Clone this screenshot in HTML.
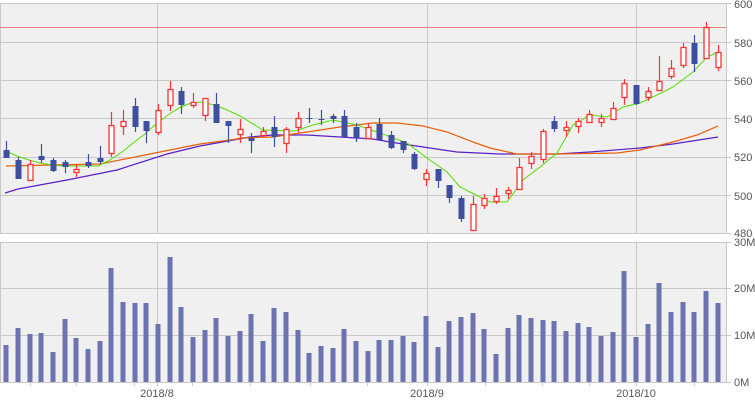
<!DOCTYPE html>
<html><head><meta charset="utf-8"><style>
html,body{margin:0;padding:0;background:#fff;}
svg{display:block;font-family:"Liberation Sans",sans-serif;}
</style></head><body>
<svg id="s" width="755" height="400" xmlns="http://www.w3.org/2000/svg">
<rect x="0" y="3" width="726" height="230" fill="#f0f0f0"/>
<rect x="0" y="242" width="726" height="140" fill="#f0f0f0"/>
<g stroke="#c8c8c8" stroke-width="1">
<line x1="0" y1="3.5" x2="731" y2="3.5"/>
<line x1="0" y1="42.5" x2="731" y2="42.5"/>
<line x1="0" y1="80.5" x2="731" y2="80.5"/>
<line x1="0" y1="118.5" x2="731" y2="118.5"/>
<line x1="0" y1="157.5" x2="731" y2="157.5"/>
<line x1="0" y1="195.5" x2="731" y2="195.5"/>
<line x1="0" y1="233.5" x2="731" y2="233.5"/>
<line x1="0" y1="242.5" x2="731" y2="242.5"/>
<line x1="0" y1="288.5" x2="731" y2="288.5"/>
<line x1="0" y1="335.5" x2="731" y2="335.5"/>
<line x1="0" y1="382.5" x2="731" y2="382.5"/>
<line x1="0.5" y1="3" x2="0.5" y2="233"/>
<line x1="0.5" y1="242" x2="0.5" y2="382"/>
<line x1="726.5" y1="3" x2="726.5" y2="233"/>
<line x1="726.5" y1="242" x2="726.5" y2="382"/>
<line x1="157.5" y1="3" x2="157.5" y2="233"/>
<line x1="427.5" y1="3" x2="427.5" y2="233"/>
<line x1="636.5" y1="3" x2="636.5" y2="233"/>
<line x1="157.5" y1="242" x2="157.5" y2="386"/>
<line x1="427.5" y1="242" x2="427.5" y2="386"/>
<line x1="636.5" y1="242" x2="636.5" y2="386"/>
</g>
<g id="ticks" stroke="#c8c8c8"></g>
<line x1="0" y1="27.5" x2="726" y2="27.5" stroke="#f08080" stroke-width="1"/>
<g fill="#555" font-size="11">
<text x="734" y="8">600</text><text x="734" y="47">580</text><text x="734" y="85">560</text>
<text x="734" y="123">540</text><text x="734" y="161">520</text><text x="734" y="200">500</text>
<text x="734" y="237">480</text>
<text x="734" y="246">30M</text><text x="734" y="292">20M</text><text x="734" y="339">10M</text><text x="734" y="386">0M</text>
<text x="157" y="397" text-anchor="middle">2018/8</text>
<text x="427" y="397" text-anchor="middle">2018/9</text>
<text x="636" y="397" text-anchor="middle">2018/10</text>
</g>
<g id="vol" fill="#6b74b0"></g>
<polyline fill="none" stroke="#5a1fc8" stroke-width="1.2" points="5,193 18,189 67,180 117,170 167,154 200,146 250,137 273,135 307,135 340,137 373,139 390,142 423,147 457,152 500,154 557,154 590,152 640,148 673,144 718,137"/>
<polyline fill="none" stroke="#e8600a" stroke-width="1.2" points="6,166 100,164 150,154 200,144 237,139 240,138 273,137 307,132 340,127 373,123 397,123 423,126 447,132 473,142 490,148 517,154 557,154 617,153 640,150 673,142 697,135 718,126"/>
<polyline fill="none" stroke="#55dd00" stroke-width="1" points="6,151 17,156 29,160 40,163 52,165 63,166 98,166 110,160 122,152 133,143 145,134 156,124 168,115 179,108 191,103 202,102 214,105 225,109 240,116 263,130 295,131 313,125 333,120 357,125 380,133 407,143 427,158 447,172 460,187 480,197 490,202 507,202 523,180 540,167 557,153 573,125 590,115 607,117 623,107 640,103 657,95 673,87 693,72 707,57 718,52"/>
<g id="c"></g>
</svg>
<script>
var NS="http://www.w3.org/2000/svg";
function el(p,t,a){var e=document.createElementNS(NS,t);for(var k in a)e.setAttribute(k,a[k]);document.getElementById(p).appendChild(e);}
var vy=[345,328,334,333,352,319,338,349,341,268,302,303,303,324,257,307,337,330,318,336,331,314,341,308,312,330,353,346,348,329,341,351,340,340,336,342,316,347,321,317,313,329,354,328,315,318,320,321,331,323,327,336,332,271,337,324,283,312,302,312,291,303];
var C=[["b",150,158,141,158],["b",160,179,157,179],["r",164,180,160,181],["b",156,160,144,163],["b",160,171,158,172],["b",162,167,160,173],["r",169,172,164,177],["b",162,166,154,168],["b",158,162,146,164],["r",125,153,112,157],["r",121,126,110,135],["b",106,127,98,132],["b",121,131,121,143],["r",110,132,104,135],["r",89,105,81,111],["b",91,105,87,114],["r",102,105,93,108],["r",98,115,98,121],["b",104,123,93,123],["b",121,126,121,143],["r",129,134,119,143],["b",138,141,133,153],["r",131,135,127,137],["b",127,137,116,147],["r",129,143,127,153],["r",118,127,112,133],["b",118,119,108,123],["b",119,120,110,125],["b",116,119,114,123],["b",116,137,110,137],["b",127,138,123,142],["r",127,138,123,138],["b",124,140,118,140],["b",135,148,131,149],["b",141,150,141,153],["b",154,169,152,170],["r",173,179,169,186],["b",169,181,169,188],["b",185,198,185,203],["b",198,219,196,222],["r",204,230,196,231],["r",198,205,194,209],["r",196,201,188,204],["r",190,193,187,199],["r",167,189,158,189],["r",156,163,152,169],["r",131,159,129,163],["b",121,129,116,132],["r",127,130,121,137],["r",121,126,118,133],["r",114,122,110,123],["r",118,122,114,127],["r",108,119,102,119],["r",83,97,79,105],["b",85,104,85,105],["r",91,97,87,101],["r",81,90,56,90],["r",68,76,60,79],["r",47,65,43,68],["b",43,64,35,72],["r",27,58,22,59],["r",52,67,45,71]];
for(var i=0;i<62;i++){
 var x=Math.round(6.3+11.66*i);
 el("vol","rect",{x:x-2.5,y:vy[i],width:5,height:382-vy[i]});
 var c=C[i],col=c[0]=="r"?"#ff3333":"#3f4fa0";
 el("c","line",{x1:x+0.5,x2:x+0.5,y1:c[3],y2:c[4],stroke:col,"stroke-width":1.2});
 var h=Math.max(1,c[2]-c[1]);
 if(c[0]=="r") el("c","rect",{x:x-2,y:c[1]+0.5,width:5,height:h,fill:"#fff",stroke:col,"stroke-width":1.3});
 else el("c","rect",{x:x-2.5,y:c[1],width:6,height:h,fill:col});
}
[30,76,134,192,250,310,367,485,542,589,694].forEach(function(t){el("ticks","line",{x1:t+0.5,x2:t+0.5,y1:382,y2:386});});
</script>
</body></html>
